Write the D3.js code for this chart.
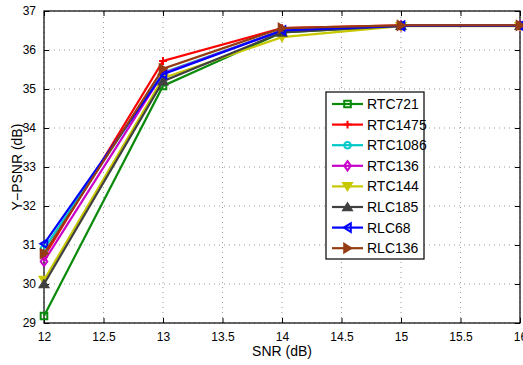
<!DOCTYPE html>
<html>
<head>
<meta charset="utf-8">
<script src="https://cdn.jsdelivr.net/npm/d3@7"></script>
<style>
  body { margin: 0; background: #fff; }
  text { font-family: "Liberation Sans Narrow", "Liberation Sans", Arial, sans-serif; }
</style>
</head>
<body>
<script>
const width = 523;
const height = 365;
const margin = { top: 11, right: 3, bottom: 42, left: 44 };
const fontFam = "'Liberation Sans Narrow', 'Liberation Sans', Arial, sans-serif";

// Data
const snr = [12, 13, 14, 15, 16];
const seriesNames = ["RTC721", "RTC1475", "RTC1086", "RTC136", "RTC144", "RLC185", "RLC68", "RLC136"];
const rtc721  = [29.18, 35.08, 36.45, 36.62, 36.62];
const rtc1475 = [30.7, 35.72, 36.56, 36.63, 36.63];
const rtc1086 = [30.9, 35.42, 36.5, 36.62, 36.62];
const rtc136  = [30.58, 35.4, 36.5, 36.62, 36.62];
const rtc144  = [30.1, 35.28, 36.33, 36.61, 36.61];
const rlc185  = [30.0, 35.2, 36.45, 36.62, 36.62];
const rlc68   = [31.03, 35.38, 36.5, 36.62, 36.62];
const rlc136  = [30.78, 35.52, 36.56, 36.63, 36.63];
const seriesValues = [rtc721, rtc1475, rtc1086, rtc136, rtc144, rlc185, rlc68, rlc136];
const colors = ["#0a8a0a", "#ff0000", "#00c8c8", "#c800c8", "#c8c800", "#404040", "#0000ff", "#963c14"];
const markers = ["square", "plus", "circle", "diamond", "down", "up", "left", "right"];
const xTicks = [12, 12.5, 13, 13.5, 14, 14.5, 15, 15.5, 16];
const yTicks = [29, 30, 31, 32, 33, 34, 35, 36, 37];

const x = d3.scaleLinear().domain([12, 16]).range([margin.left, 520]);
const y = d3.scaleLinear().domain([29, 37]).range([height - margin.bottom, margin.top]);

const svg = d3.select("body").append("svg")
  .attr("width", width)
  .attr("height", height);

// grid
const grid = svg.append("g");
xTicks.forEach(t => {
  grid.append("line")
    .attr("x1", x(t)).attr("x2", x(t))
    .attr("y1", y(29)).attr("y2", y(37))
    .attr("stroke", "#999").attr("stroke-width", 1)
    .attr("stroke-dasharray", "1,4");
});
yTicks.forEach(t => {
  grid.append("line")
    .attr("x1", x(12)).attr("x2", x(16))
    .attr("y1", y(t)).attr("y2", y(t))
    .attr("stroke", "#999").attr("stroke-width", 1)
    .attr("stroke-dasharray", "1,4");
});

// axes (inward ticks, MATLAB style)
svg.append("g")
  .attr("transform", `translate(0,${y(29)})`)
  .call(d3.axisBottom(x).tickValues(xTicks).tickSize(-5).tickPadding(9).tickFormat(d3.format("")))
  .call(g => g.select(".domain").remove());
svg.append("g")
  .attr("transform", `translate(0,${y(37)})`)
  .call(d3.axisTop(x).tickValues(xTicks).tickSize(-5).tickFormat(""))
  .call(g => g.select(".domain").remove());
svg.append("g")
  .attr("transform", `translate(${x(12)},0)`)
  .call(d3.axisLeft(y).tickValues(yTicks).tickSize(-5).tickPadding(8).tickFormat(d3.format("")))
  .call(g => g.select(".domain").remove());
svg.append("g")
  .attr("transform", `translate(${x(16)},0)`)
  .call(d3.axisRight(y).tickValues(yTicks).tickSize(-5).tickFormat(""))
  .call(g => g.select(".domain").remove());

svg.selectAll(".tick text").attr("font-size", 12).attr("fill", "#000")
  .attr("font-family", fontFam);
svg.selectAll(".tick line").attr("stroke", "#000");

svg.append("rect")
  .attr("x", x(12)).attr("y", y(37))
  .attr("width", x(16) - x(12)).attr("height", y(29) - y(37))
  .attr("fill", "none").attr("stroke", "#000").attr("stroke-width", 1.2);

// marker path generator
function markerPath(type, s) {
  switch (type) {
    case "square": return `M${-s},${-s}H${s}V${s}H${-s}Z`;
    case "plus": return `M${-s * 1.2},0H${s * 1.2}M0,${-s * 1.2}V${s * 1.2}`;
    case "circle": return `M${s},0A${s},${s} 0 1,1 ${-s},0A${s},${s} 0 1,1 ${s},0Z`;
    case "diamond": return `M0,${-s * 1.4}L${s},0L0,${s * 1.4}L${-s},0Z`;
    case "down": return `M${-s * 1.3},${-s}L${s * 1.3},${-s}L0,${s * 1.1}Z`;
    case "up": return `M${-s * 1.3},${s}L${s * 1.3},${s}L0,${-s * 1.1}Z`;
    case "left": return `M${s},${-s * 1.3}L${s},${s * 1.3}L${-s * 1.1},0Z`;
    case "right": return `M${-s},${-s * 1.3}L${-s},${s * 1.3}L${s * 1.1},0Z`;
  }
}
const filled = { down: true, up: true, left: false, right: true };

const line = d3.line().x(d => x(d[0])).y(d => y(d[1]));

seriesValues.forEach((vals, i) => {
  const pts = snr.map((s, j) => [s, vals[j]]);
  const g = svg.append("g");
  g.append("path")
    .datum(pts)
    .attr("d", line)
    .attr("fill", "none")
    .attr("stroke", colors[i])
    .attr("stroke-width", 2.2);
  g.selectAll("path.m")
    .data(pts)
    .enter()
    .append("path")
    .attr("class", "m")
    .attr("transform", d => `translate(${x(d[0])},${y(d[1])})`)
    .attr("d", markerPath(markers[i], 3.3))
    .attr("fill", filled[markers[i]] ? colors[i] : "none")
    .attr("stroke", colors[i])
    .attr("stroke-width", 2);
});

// axis labels
svg.append("text")
  .attr("x", 282).attr("y", 356)
  .attr("text-anchor", "middle")
  .attr("font-size", 14)
  .attr("font-family", fontFam)
  .text("SNR (dB)");
svg.append("text")
  .attr("transform", `translate(22,${y(33)}) rotate(-90)`)
  .attr("text-anchor", "middle")
  .attr("font-size", 14)
  .attr("font-family", fontFam)
  .text("Y\u2212PSNR (dB)");

// legend
const legend = svg.append("g").attr("transform", "translate(326,92)");
legend.append("rect")
  .attr("width", 98).attr("height", 167)
  .attr("fill", "#fff").attr("stroke", "#000").attr("stroke-width", 1.2);
seriesNames.forEach((name, i) => {
  const ly = 12 + i * 20.6;
  legend.append("line")
    .attr("x1", 6).attr("x2", 37)
    .attr("y1", ly).attr("y2", ly)
    .attr("stroke", colors[i]).attr("stroke-width", 2.2);
  legend.append("path")
    .attr("transform", `translate(21.5,${ly})`)
    .attr("d", markerPath(markers[i], 3.3))
    .attr("fill", filled[markers[i]] ? colors[i] : "none")
    .attr("stroke", colors[i])
    .attr("stroke-width", 2);
  legend.append("text")
    .attr("x", 41).attr("y", ly + 5)
    .attr("font-size", 14)
    .attr("font-family", fontFam)
    .text(name);
});
</script>
</body>
</html>
